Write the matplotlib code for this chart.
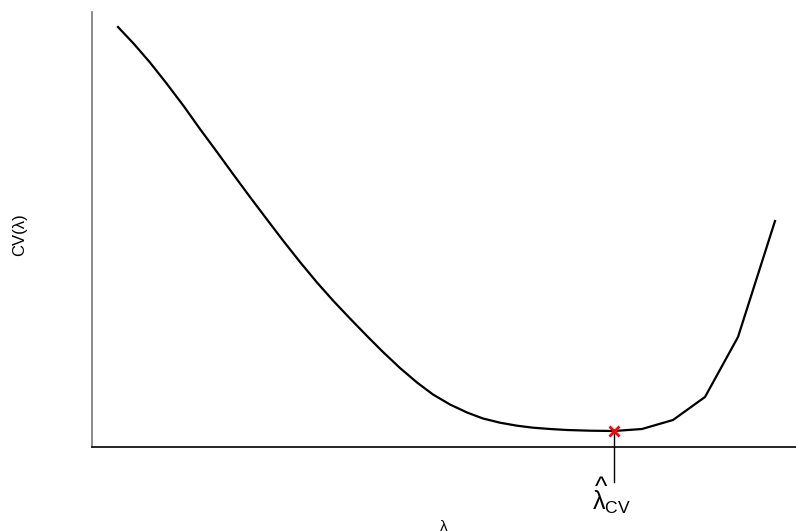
import matplotlib
matplotlib.use("Agg")
import matplotlib.pyplot as plt
import numpy as np

plt.rcParams['font.family'] = ['Liberation Sans', 'DejaVu Sans']
plt.rcParams['mathtext.fontset'] = 'custom'
plt.rcParams['mathtext.rm'] = 'Liberation Sans'
plt.rcParams['mathtext.it'] = 'Liberation Sans'
plt.rcParams['mathtext.sf'] = 'Liberation Sans'

lam = [0.26, 0.42, 0.58, 0.75, 0.92, 1.08, 1.25, 1.41, 1.58, 1.75, 1.91, 2.08,
       2.25, 2.41, 2.58, 2.75, 2.91, 3.08, 3.25, 3.41, 3.58, 3.75, 3.91, 4.08,
       4.25, 4.41, 4.58, 4.75, 4.98, 5.22, 5.50, 5.81, 6.13, 6.46, 6.83]
cv = [4.20, 4.03, 3.845, 3.63, 3.405, 3.18, 2.95, 2.73, 2.50, 2.275, 2.065, 1.85,
      1.645, 1.465, 1.285, 1.11, 0.95, 0.79, 0.645, 0.525, 0.425, 0.345, 0.285, 0.243,
      0.213, 0.193, 0.18, 0.17, 0.163, 0.16, 0.18, 0.27, 0.50, 1.10, 2.26]

fig = plt.figure(figsize=(7.96, 5.31), dpi=100)
ax = fig.add_axes([92/796, 1 - 447/531, (796 - 92)/796, (447 - 12)/531])
ax.plot(lam, cv, color='black', lw=1.6, solid_joinstyle='round')
imin = int(np.argmin(cv))
xm, ym = lam[imin], cv[imin]
ax.plot(xm, ym, 'x', color='red', ms=7, mew=2, zorder=5)
ax.plot([xm, xm], [ym, -0.35], color='black', lw=1, clip_on=False, zorder=4)
ax.text(xm - 0.22, -0.63, r'$\lambda_{\mathrm{CV}}$', ha='left', va='baseline',
        fontsize=18, clip_on=False)
ax.text(xm - 0.13, -0.29, '^', ha='center', va='top', fontsize=19, clip_on=False)

ax.set_xlim(0, 7.04)
ax.set_ylim(0, 4.35)
ax.set_xticks([])
ax.set_yticks([])
ax.spines['top'].set_visible(False)
ax.spines['right'].set_visible(False)
ax.spines['left'].set_color('#777777')
ax.spines['left'].set_linewidth(1.2)
ax.spines['bottom'].set_color('black')
ax.spines['bottom'].set_linewidth(1.2)

fig.text(444/796, 1 - 527/531, 'λ', ha='center', va='center', fontsize=11)
fig.text(20/796, 1 - 235/531, 'CV(λ)', ha='center', va='center', rotation=90, fontsize=12)

fig.savefig('out.png', dpi=100)
